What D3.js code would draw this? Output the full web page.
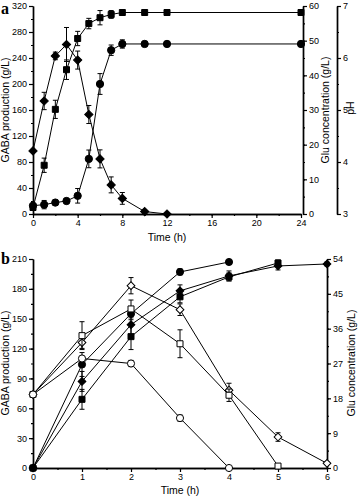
<!DOCTYPE html>
<html>
<head>
<meta charset="utf-8">
<style>
  body { margin: 0; background: #fff; }
  svg text { font-family: "Liberation Sans", Arial, sans-serif; fill: #000; }
  .axis path, .axis line { stroke: #000; }
  .axis path { stroke-width: 1.4px; }
  .axis line { stroke-width: 1.2px; }
  .axis text { font-size: 9px; }
  .line { fill: none; stroke: #000; stroke-width: 1px; }
  .err { stroke: #000; stroke-width: 1px; }
</style>
</head>
<body>
<div id="chart"></div>
<script src="https://d3js.org/d3.v7.min.js"></script>
<script>
// ---- panel a data ----
const timeA = [0, 1, 2, 3, 4, 5, 6, 7, 8, 10, 12, 24];
const gabaA = [10, 75, 161, 222, 270, 293, 302, 307, 310, 310, 310, 310];
const gabaErrA = [0, 11, 14, 15, 11, 8, 11, 6, 4, 2, 2, 2];
const timeGluA = [0, 1, 2, 3, 4, 5, 6, 7, 8, 10, 12];
const gluA = [18.2, 32.6, 45.6, 48.9, 44.4, 28.7, 15.9, 8.4, 4.5, 0.7, 0];
const gluErrA = [0, 2.5, 1.1, 4.9, 2.6, 2.6, 2.6, 2.3, 1.7, 0.4, 0];
const phA = [3.16, 3.18, 3.22, 3.25, 3.35, 4.06, 5.5, 6.15, 6.27, 6.27, 6.27, 6.27];
const phErrA = [0.03, 0.08, 0.05, 0.05, 0.14, 0.17, 0.2, 0.1, 0.08, 0.05, 0.05, 0.05];

// ---- panel b data ----
const timeB = [0, 1, 2, 3, 4, 5, 6];
const gabaCircleB = [0, 104, 155, 197, 207];
const gabaCircleErrB = [0, 12, 6, 3, 2];
const gabaSquareB = [0, 69, 132, 172, 192, 206];
const gabaSquareErrB = [0, 10, 13, 6, 4, 3];
const gabaDiamondB = [0, 87, 144, 178, 193, 203, 205];
const gabaDiamondErrB = [0, 10, 10, 6, 5, 4, 2];
const gluDiamondB = [19.0, 32.4, 47.1, 40.9, 20.1, 8.0, 1.2];
const gluDiamondErrB = [0.5, 1.5, 2.1, 1.5, 1.8, 1.1, 0.3];
const gluSquareB = [19.0, 34.2, 41.1, 32.1, 18.8, 0.5];
const gluSquareErrB = [0.5, 3.6, 2.3, 3.6, 1.6, 0.2];
const gluCircleB = [19.0, 28.3, 27.0, 12.9, 0];
const gluCircleErrB = [0.5, 0.5, 0.8, 0.8, 0];

const svg = d3.select('#chart').append('svg')
  .attr('width', 359)
  .attr('height', 498);

function drawSeries(g, x, y, times, vals, errs, m) {
  const pts = vals.map((v, i) => ({ t: times[i], v: v, e: errs[i] }));
  g.append('path')
    .datum(pts)
    .attr('class', 'line')
    .attr('d', d3.line().x(d => x(d.t)).y(d => y(d.v)));

  const eb = g.append('g');
  pts.filter(d => d.e > 0).forEach(d => {
    const cx = x(d.t), y1 = y(d.v + d.e), y2 = y(d.v - d.e);
    eb.append('line').attr('class', 'err').attr('x1', cx).attr('x2', cx).attr('y1', y1).attr('y2', y2);
    eb.append('line').attr('class', 'err').attr('x1', cx - 2.5).attr('x2', cx + 2.5).attr('y1', y1).attr('y2', y1);
    eb.append('line').attr('class', 'err').attr('x1', cx - 2.5).attr('x2', cx + 2.5).attr('y1', y2).attr('y2', y2);
  });

  let sym;
  if (m.shape === 'circle') sym = d3.symbol(d3.symbolCircle, m.size || 40);
  else sym = d3.symbol(d3.symbolSquare, m.size || 36);
  g.append('g').selectAll('path')
    .data(pts)
    .join('path')
    .attr('d', sym)
    .attr('transform', d => `translate(${x(d.t)},${y(d.v)})` + (m.shape === 'diamond' ? ' rotate(45)' : ''))
    .attr('fill', m.filled ? '#000' : '#fff')
    .attr('stroke', '#000')
    .attr('stroke-width', 1);
}

function axisWithMinor(g, axisFn, scale, major, minor, transform) {
  g.append('g').attr('class', 'axis').attr('transform', transform)
    .call(axisFn(scale).tickValues(minor).tickSize(2).tickSizeOuter(0).tickFormat(''));
  g.append('g').attr('class', 'axis').attr('transform', transform)
    .call(axisFn(scale).tickValues(major).tickSize(4).tickSizeOuter(0).tickPadding(2).tickFormat(d3.format('d')));
}

// ================= panel a =================
const ga = svg.append('g');
const xA = d3.scaleLinear().domain([0, 24]).range([33, 301]);
const yGabaA = d3.scaleLinear().domain([0, 320]).range([214, 6]);
const yGluA = d3.scaleLinear().domain([0, 60]).range([214, 6]);
const yPhA = d3.scaleLinear().domain([3, 7]).range([214, 6]);

axisWithMinor(ga, d3.axisBottom, xA, d3.range(0, 25, 4), d3.range(0, 25, 2), 'translate(0,214)');
axisWithMinor(ga, d3.axisLeft, yGabaA, d3.range(0, 321, 40), d3.range(0, 321, 20), 'translate(33,0)');
axisWithMinor(ga, d3.axisRight, yGluA, d3.range(0, 61, 10), d3.range(0, 61, 5), 'translate(303,0)');
axisWithMinor(ga, d3.axisRight, yPhA, d3.range(3, 8, 1), d3.range(3, 7.1, 0.5), 'translate(337,0)');

drawSeries(ga, xA, yGluA, timeGluA, gluA, gluErrA, { shape: 'diamond', filled: true, size: 34 });
drawSeries(ga, xA, yGabaA, timeA, gabaA, gabaErrA, { shape: 'square', filled: true, size: 36 });
drawSeries(ga, xA, yPhA, timeA, phA, phErrA, { shape: 'circle', filled: true, size: 42 });

ga.append('text').attr('transform', 'translate(9,110) rotate(-90)')
  .attr('text-anchor', 'middle').style('font-size', '10.5px').text('GABA production (g/L)');
ga.append('text').attr('transform', 'translate(329,110) rotate(-90)')
  .attr('text-anchor', 'middle').style('font-size', '10.5px').text('Glu concentration (g/L)');
ga.append('text').attr('transform', 'translate(354,108) rotate(-90)')
  .attr('text-anchor', 'middle').style('font-size', '10.5px').text('pH');
ga.append('text').attr('x', 167).attr('y', 241)
  .attr('text-anchor', 'middle').style('font-size', '10.5px').text('Time (h)');
ga.append('text').attr('x', 1).attr('y', 14)
  .style('font-family', '"Liberation Serif", serif').style('font-weight', 'bold').style('font-size', '16px').text('a');

// ================= panel b =================
const gb = svg.append('g');
const xB = d3.scaleLinear().domain([0, 6]).range([33, 327]);
const yGabaB = d3.scaleLinear().domain([0, 210]).range([468, 259]);
const yGluB = d3.scaleLinear().domain([0, 54]).range([468, 259]);

axisWithMinor(gb, d3.axisBottom, xB, d3.range(0, 7, 1), d3.range(0, 6.1, 0.5), 'translate(0,468)');
axisWithMinor(gb, d3.axisLeft, yGabaB, d3.range(0, 211, 30), d3.range(0, 211, 15), 'translate(33,0)');
axisWithMinor(gb, d3.axisRight, yGluB, d3.range(0, 55, 9), d3.range(0, 54.1, 4.5), 'translate(327,0)');

drawSeries(gb, xB, yGabaB, timeB.slice(0, 5), gabaCircleB, gabaCircleErrB, { shape: 'circle', filled: true, size: 40 });
drawSeries(gb, xB, yGabaB, timeB.slice(0, 6), gabaSquareB, gabaSquareErrB, { shape: 'square', filled: true, size: 36 });
drawSeries(gb, xB, yGabaB, timeB, gabaDiamondB, gabaDiamondErrB, { shape: 'diamond', filled: true, size: 30 });
drawSeries(gb, xB, yGluB, timeB, gluDiamondB, gluDiamondErrB, { shape: 'diamond', filled: false, size: 30 });
drawSeries(gb, xB, yGluB, timeB.slice(0, 6), gluSquareB, gluSquareErrB, { shape: 'square', filled: false, size: 36 });
drawSeries(gb, xB, yGluB, timeB.slice(0, 5), gluCircleB, gluCircleErrB, { shape: 'circle', filled: false, size: 40 });

gb.append('text').attr('transform', 'translate(9,363) rotate(-90)')
  .attr('text-anchor', 'middle').style('font-size', '10.5px').text('GABA production (g/L)');
gb.append('text').attr('transform', 'translate(355,363) rotate(-90)')
  .attr('text-anchor', 'middle').style('font-size', '10.5px').text('Glu concentration (g/L)');
gb.append('text').attr('x', 180).attr('y', 494)
  .attr('text-anchor', 'middle').style('font-size', '10.5px').text('Time (h)');
gb.append('text').attr('x', 1).attr('y', 264)
  .style('font-family', '"Liberation Serif", serif').style('font-weight', 'bold').style('font-size', '16px').text('b');
</script>
</body>
</html>
